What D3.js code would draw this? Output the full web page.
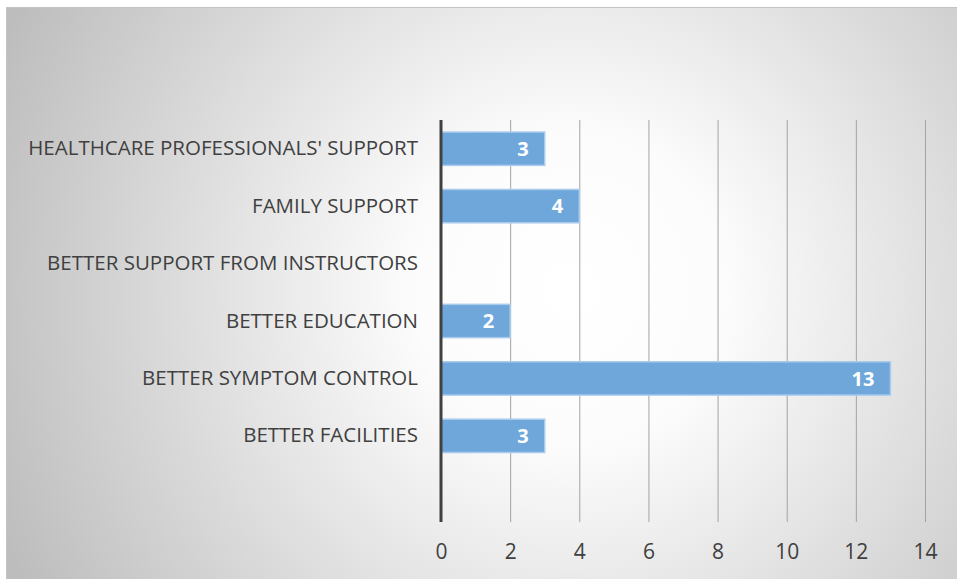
<!DOCTYPE html>
<html>
<head>
<meta charset="utf-8">
<script src="https://cdn.jsdelivr.net/npm/d3@7"></script>
<style>
  body { margin: 0; background: #fff; }
  text { font-family: "Open Sans", sans-serif; }
</style>
</head>
<body>
<svg id="chart"></svg>
<script>
const categories = [
  "HEALTHCARE PROFESSIONALS' SUPPORT",
  "FAMILY SUPPORT",
  "BETTER SUPPORT FROM INSTRUCTORS",
  "BETTER EDUCATION",
  "BETTER SYMPTOM CONTROL",
  "BETTER FACILITIES"
];
const values = [3, 4, 0, 2, 13, 3];
const tickValues = [0, 2, 4, 6, 8, 10, 12, 14];

const w = 957;
const h = 579;
const plotLeft = 441;
const plotRight = 925;
const plotTop = 120;
const plotBottom = 522;
const step = (plotBottom - plotTop) / 7;

const rows = categories.map((c, i) => ({ cat: c, val: values[i] }));

const svg = d3.select("#chart").attr("width", w).attr("height", h);

const defs = svg.append("defs");
const grad = defs.append("radialGradient")
  .attr("id", "bg")
  .attr("gradientUnits", "userSpaceOnUse")
  .attr("cx", 570).attr("cy", 290).attr("r", 620);
grad.append("stop").attr("offset", "0").attr("stop-color", "#ffffff");
grad.append("stop").attr("offset", "0.25").attr("stop-color", "#fcfcfc");
grad.append("stop").attr("offset", "1").attr("stop-color", "#bdbdbd");

svg.append("rect")
  .attr("x", 6.5).attr("y", 7.5)
  .attr("width", w - 6).attr("height", h - 7)
  .attr("fill", "url(#bg)")
  .attr("stroke", "#c4c4c4");

const x = d3.scaleLinear().domain([0, 14]).range([plotLeft, plotRight]);
const y = d3.scaleBand()
  .domain(categories)
  .range([plotTop, plotBottom - step])
  .paddingInner(0.42)
  .paddingOuter(0.21);

// gridlines + tick labels
const xAxis = d3.axisBottom(x)
  .tickValues(tickValues)
  .tickSize(-(plotBottom - plotTop))
  .tickPadding(22)
  .tickFormat(d3.format("d"));

const gx = svg.append("g")
  .attr("transform", "translate(0," + plotBottom + ")")
  .call(xAxis);
gx.select(".domain").remove();
gx.selectAll(".tick line").attr("stroke", "#a3a3a3").attr("stroke-width", 1);
gx.selectAll(".tick text")
  .attr("fill", "#404040")
  .style("font-size", "21px")
  .attr("dy", "0.71em");

// bars
svg.selectAll("rect.bar")
  .data(rows)
  .enter()
  .append("rect")
  .attr("class", "bar")
  .attr("x", x(0))
  .attr("y", (d) => y(d.cat))
  .attr("width", (d) => x(d.val) - x(0))
  .attr("height", y.bandwidth())
  .attr("fill", "#6fa7db")
  .attr("stroke", (d) => (d.val > 0 ? "#a9cbec" : "none"))
  .attr("stroke-width", 1.5);

// value labels
svg.selectAll("text.value")
  .data(rows.filter((d) => d.val > 0))
  .enter()
  .append("text")
  .attr("class", "value")
  .attr("x", (d) => x(d.val) - 16)
  .attr("y", (d) => y(d.cat) + y.bandwidth() / 2)
  .attr("dy", "0.36em")
  .attr("text-anchor", "end")
  .attr("fill", "#ffffff")
  .style("font-size", "20px")
  .style("font-weight", "bold")
  .text((d) => d.val);

// category axis
const yAxis = d3.axisLeft(y).tickSize(0).tickPadding(23);
const gy = svg.append("g")
  .attr("transform", "translate(" + plotLeft + ",0)")
  .call(yAxis);
gy.select(".domain").remove();
gy.selectAll(".tick text")
  .attr("fill", "#404040")
  .style("font-size", "20.5px");

svg.append("line")
  .attr("x1", plotLeft).attr("x2", plotLeft)
  .attr("y1", plotTop).attr("y2", plotBottom)
  .attr("stroke", "#404040")
  .attr("stroke-width", 3);
</script>
</body>
</html>
